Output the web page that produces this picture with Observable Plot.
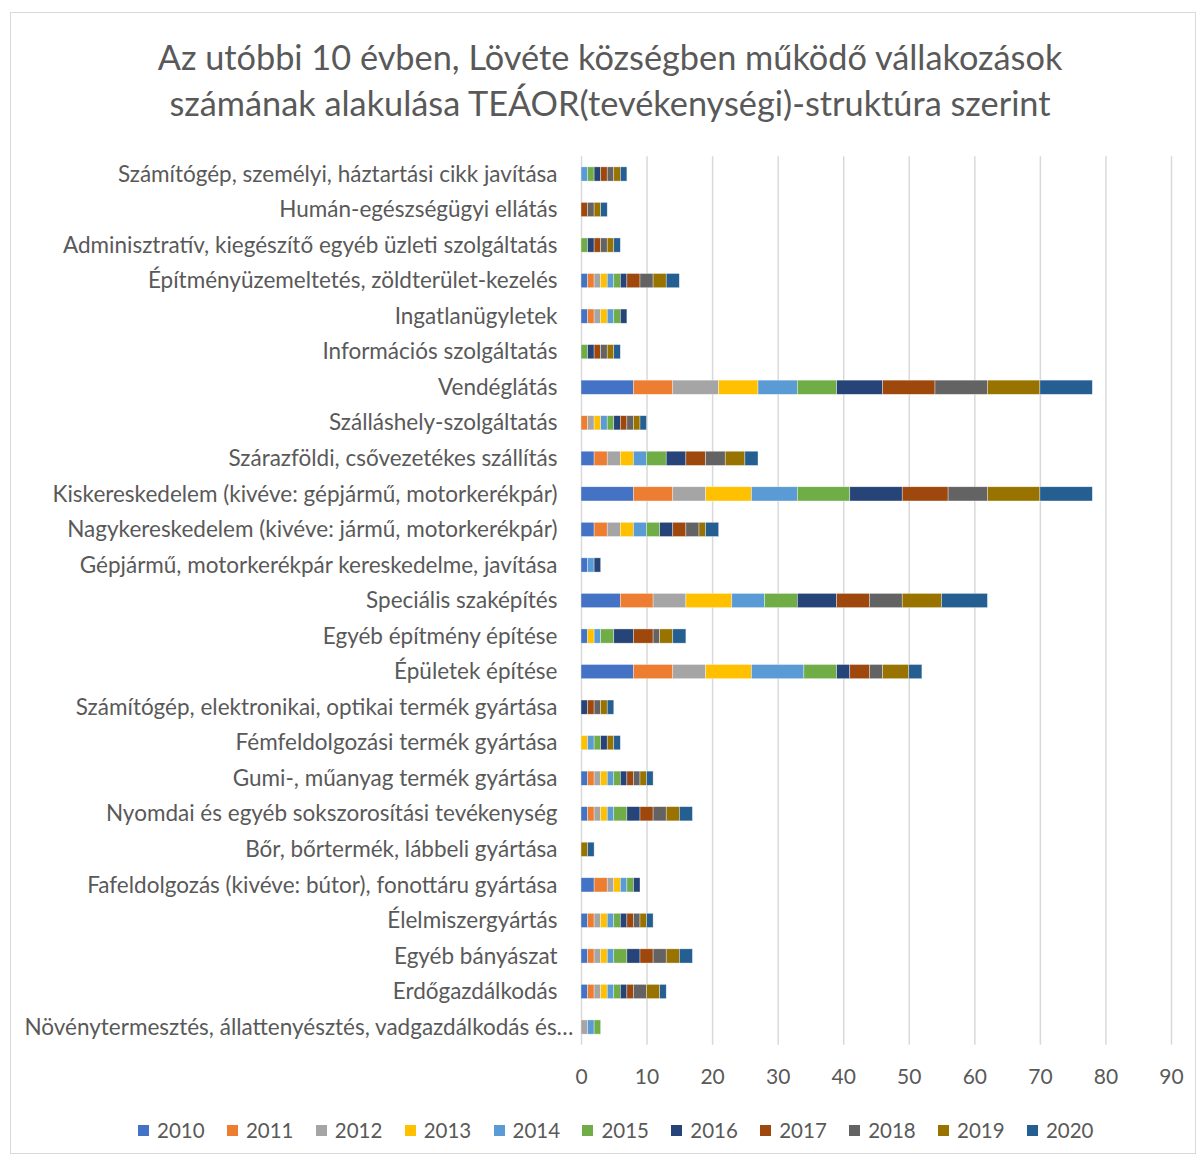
<!DOCTYPE html>
<html>
<head>
<meta charset="utf-8">
<script src="https://cdn.jsdelivr.net/npm/d3@7"></script>
<script src="https://cdn.jsdelivr.net/npm/@observablehq/plot@0.6"></script>
<style>
  html, body { margin: 0; padding: 0; background: #fff; }
  #page { position: relative; width: 1200px; height: 1158px; overflow: hidden; font-family: Lato, "Open Sans", sans-serif; color: #595959; }
  #frame { position: absolute; left: 10px; top: 12px; width: 1186px; height: 1142px; border: 1px solid #d9d9d9; box-sizing: border-box; }
  #title { position: absolute; left: 10px; width: 1200px; top: 34px; text-align: center; font-size: 34.3px; line-height: 46px; color: #595959; }
  #chart { position: absolute; left: 0; top: 140px; }
  #legend { position: absolute; left: 138px; top: 1117px; display: flex; }
  .item { width: 88.9px; display: flex; align-items: center; font-size: 20.5px; height: 26px; }
  .sw { width: 11px; height: 11px; margin-right: 8px; flex: none; }
</style>
</head>
<body>
<div id="page">
  <div id="frame"></div>
  <div id="title">Az utóbbi 10 évben, Lövéte községben működő vállakozások<br>számának alakulása TEÁOR(tevékenységi)-struktúra szerint</div>
  <div id="chart"></div>
  <div id="legend"></div>
</div>
<script>
const categories = [
  "Számítógép, személyi, háztartási cikk javítása",
  "Humán-egészségügyi ellátás",
  "Adminisztratív, kiegészítő egyéb üzleti szolgáltatás",
  "Építményüzemeltetés, zöldterület-kezelés",
  "Ingatlanügyletek",
  "Információs szolgáltatás",
  "Vendéglátás",
  "Szálláshely-szolgáltatás",
  "Szárazföldi, csővezetékes szállítás",
  "Kiskereskedelem (kivéve: gépjármű, motorkerékpár)",
  "Nagykereskedelem (kivéve: jármű, motorkerékpár)",
  "Gépjármű, motorkerékpár kereskedelme, javítása",
  "Speciális szaképítés",
  "Egyéb építmény építése",
  "Épületek építése",
  "Számítógép, elektronikai, optikai termék gyártása",
  "Fémfeldolgozási termék gyártása",
  "Gumi-, műanyag termék gyártása",
  "Nyomdai és egyéb sokszorosítási tevékenység",
  "Bőr, bőrtermék, lábbeli gyártása",
  "Fafeldolgozás (kivéve: bútor), fonottáru gyártása",
  "Élelmiszergyártás",
  "Egyéb bányászat",
  "Erdőgazdálkodás",
  "Növénytermesztés, állattenyésztés, vadgazdálkodás és…"
];
const years = ["2010","2011","2012","2013","2014","2015","2016","2017","2018","2019","2020"];
const colors = ["#4472C4","#ED7D31","#A5A5A5","#FFC000","#5B9BD5","#70AD47","#264478","#9E480E","#636363","#997300","#255E91"];

const s2010 = [0,0,0,1,1,0,8,0,2,8,2,1,6,1,8,0,0,1,1,0,2,1,1,1,0];
const s2011 = [0,0,0,1,1,0,6,1,2,6,2,0,5,0,6,0,0,1,1,0,2,1,1,1,0];
const s2012 = [0,0,0,1,1,0,7,1,2,5,2,0,5,0,5,0,0,1,1,0,1,1,1,1,1];
const s2013 = [0,0,0,1,1,0,6,1,2,7,2,0,7,1,7,0,1,1,1,0,1,1,1,1,0];
const s2014 = [1,0,0,1,1,0,6,1,2,7,2,1,5,1,8,0,1,1,1,0,1,1,1,1,1];
const s2015 = [1,0,1,1,1,1,6,1,3,8,2,0,5,2,5,0,1,1,2,0,1,1,2,1,1];
const s2016 = [1,0,1,1,1,1,7,1,3,8,2,1,6,3,2,1,1,1,2,0,1,1,2,1,0];
const s2017 = [1,1,1,2,0,1,8,1,3,7,2,0,5,3,3,1,0,1,2,0,0,1,2,1,0];
const s2018 = [1,1,1,2,0,1,8,1,3,6,2,0,5,1,2,1,0,1,2,0,0,1,2,2,0];
const s2019 = [1,1,1,2,0,1,8,1,3,8,1,0,6,2,4,1,1,1,2,1,0,1,2,2,0];
const s2020 = [1,1,1,2,0,1,8,1,2,8,2,0,7,2,2,1,1,1,2,1,0,1,2,1,0];
const series = [s2010,s2011,s2012,s2013,s2014,s2015,s2016,s2017,s2018,s2019,s2020];

const xTicks = [0,10,20,30,40,50,60,70,80,90];

const data = [];
categories.forEach((c, i) => {
  years.forEach((y, j) => {
    data.push({category: c, year: y, value: series[j][i]});
  });
});
const nonZero = data.filter(d => d.value > 0);
const lastCat = categories[categories.length - 1];

const chart = Plot.plot({
  width: 1200,
  height: 960,
  marginLeft: 581,
  marginRight: 29,
  marginTop: 16.2,
  marginBottom: 55.2,
  style: {fontFamily: "Lato, 'Open Sans', sans-serif", fontSize: "20px", color: "#595959", background: "transparent", overflow: "visible"},
  x: {domain: [0, 90]},
  y: {domain: categories, paddingInner: 0.6, paddingOuter: 0.3, round: false},
  color: {domain: years, range: colors},
  marks: [
    Plot.gridX(xTicks, {stroke: "#d9d9d9", strokeOpacity: 1, strokeWidth: 1.5}),
    Plot.barX(nonZero, Plot.stackX({y: "category", x: "value", fill: "year", stroke: "white", strokeWidth: 0.6, strokeOpacity: 0.6})),
    Plot.axisX({ticks: xTicks, tickSize: 0, tickPadding: 24, label: null, fontSize: 21}),
    Plot.axisY({ticks: categories.slice(0, -1), tickSize: 0, tickPadding: 24, label: null, fontSize: 22.5}),
    Plot.axisY({ticks: [lastCat], tickSize: 0, tickPadding: 24, dx: 16, label: null, fontSize: 22.5})
  ]
});
document.getElementById("chart").appendChild(chart);

const legend = d3.select("#legend");
years.forEach((y, j) => {
  const it = legend.append("div").attr("class", "item");
  it.append("div").attr("class", "sw").style("background", colors[j]);
  it.append("span").text(y);
});
</script>
</body>
</html>
